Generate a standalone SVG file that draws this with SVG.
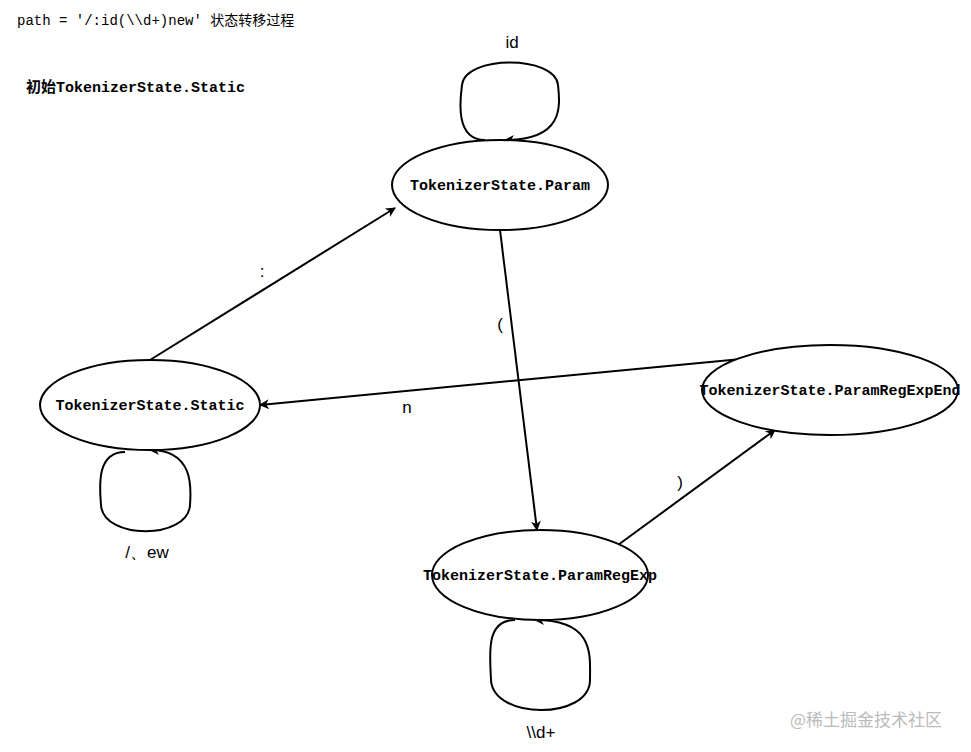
<svg xmlns="http://www.w3.org/2000/svg" width="971" height="752" viewBox="0 0 971 752">
<style>
.n{fill:#fff;stroke:#000;stroke-width:2}
.c{fill:none;stroke:#000;stroke-width:2}
.m{font-family:"Liberation Mono","DejaVu Sans Mono","Noto Sans CJK SC",monospace;font-size:15px;font-weight:bold;fill:#000}
.t{font-family:"Liberation Mono","DejaVu Sans Mono","Noto Sans CJK SC",monospace;font-size:14px;fill:#000}
.l{font-family:"Liberation Sans",Arial,sans-serif;font-size:17px;fill:#000}
</style>
<defs><marker id="a" markerWidth="10" markerHeight="10" refX="9" refY="5" orient="auto" markerUnits="userSpaceOnUse"><path d="M0,0 L10,5 L0,10 L3,5 Z" fill="#000"/></marker></defs>
<rect width="971" height="752" fill="#fff"/>
<text class="t" x="17" y="25">path = '/:id(\\d+)new' 状态转移过程</text>
<text class="m" x="26" y="92">初始TokenizerState.Static</text>
<g id="connectors">
<path class="c" marker-end="url(#a)" d="M485,140 C455,140 460,100 462,85 C465,55 555,55 558,85 C560,105 565,140 505,140"/>
<path class="c" marker-end="url(#a)" d="M125,452 C95,452 100,490 101,505 C103,540 188,540 190,505 C191,490 195,450 150,450"/>
<path class="c" marker-end="url(#a)" d="M515,620 C485,620 490,655 491,680 C493,720 590,720 590,680 C590,655 595,620 535,620"/>
<line class="c" marker-end="url(#a)" x1="150" y1="360" x2="395" y2="208"/>
<line class="c" marker-end="url(#a)" x1="500" y1="230" x2="537" y2="530"/>
<line class="c" marker-end="url(#a)" x1="618" y1="545" x2="775" y2="430"/>
<line class="c" marker-end="url(#a)" x1="752" y1="358" x2="260" y2="405"/>
<text class="l" x="512" y="48" text-anchor="middle">id</text>
<text class="l" x="147" y="558" text-anchor="middle">/、ew</text>
<text class="l" x="541" y="738" text-anchor="middle">\\d+</text>
<text class="l" x="262" y="277" text-anchor="middle">:</text>
<text class="l" x="500" y="330" text-anchor="middle">(</text>
<text class="l" x="680" y="488" text-anchor="middle">)</text>
<text class="l" x="407" y="413" text-anchor="middle">n</text>
</g>
<g id="param"><ellipse class="n" cx="500" cy="185" rx="108" ry="45"/><text class="m" x="500" y="190" text-anchor="middle">TokenizerState.Param</text></g>
<g id="static"><ellipse class="n" cx="150" cy="405" rx="110" ry="45"/><text class="m" x="150" y="410" text-anchor="middle">TokenizerState.Static</text></g>
<g id="end"><ellipse class="n" cx="830" cy="390" rx="128" ry="45"/><text class="m" x="830" y="395" text-anchor="middle">TokenizerState.ParamRegExpEnd</text></g>
<g id="regexp"><ellipse class="n" cx="540" cy="575" rx="108" ry="45"/><text class="m" x="540" y="580" text-anchor="middle">TokenizerState.ParamRegExp</text></g>
<text x="790" y="726" font-family="'Noto Sans CJK SC',sans-serif" font-size="17" fill="#bbb">@稀土掘金技术社区</text>
</svg>
